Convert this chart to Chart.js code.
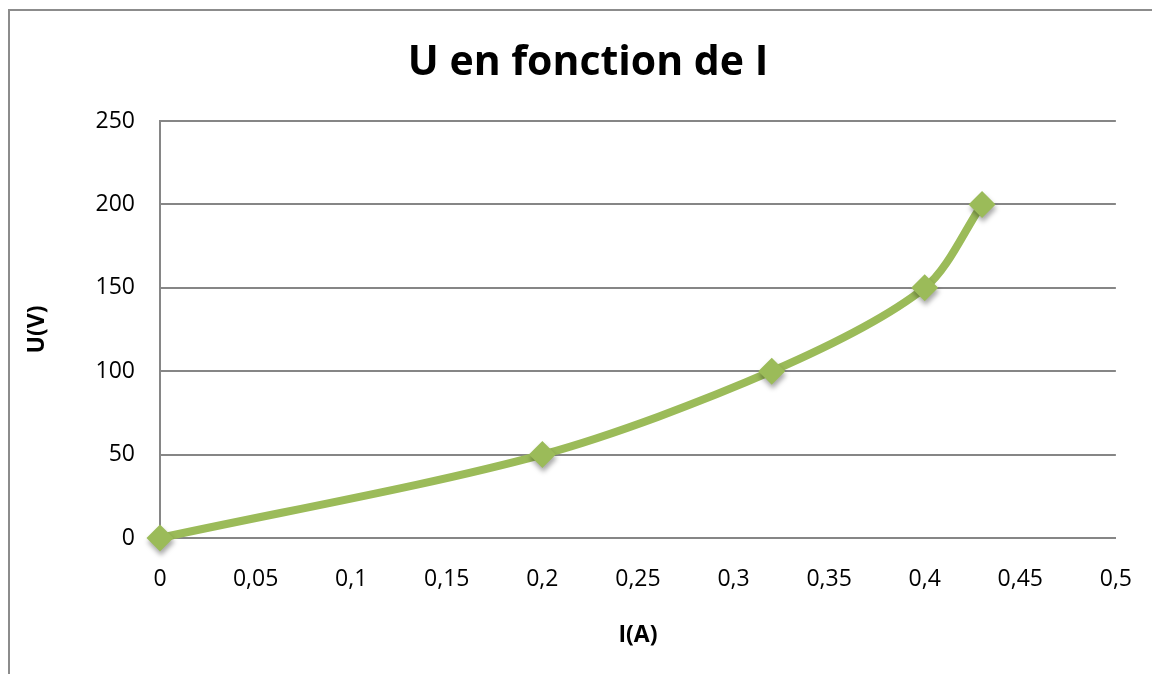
<!DOCTYPE html>
<html>
<head>
<meta charset="utf-8">
<script src="https://cdn.jsdelivr.net/npm/chart.js@4/dist/chart.umd.min.js"></script>
<style>
  html, body { margin: 0; padding: 0; background: #fff; overflow: hidden; }
  #frame {
    position: absolute; left: 8px; top: 9px; width: 1300px; height: 800px;
    border: 2px solid #8c8c8c; box-sizing: border-box;
  }
  #wrap { position: absolute; left: 0; top: 0; width: 1160px; height: 674px; }
</style>
</head>
<body>
<div id="frame"></div>
<div id="wrap"><canvas id="chart"></canvas></div>
<script>
// I (A) / U (V) measurements
const courant = [0, 0.2, 0.32, 0.4, 0.43];
const tension = [0, 50, 100, 150, 200];
const xTicks = [0, 0.05, 0.1, 0.15, 0.2, 0.25, 0.3, 0.35, 0.4, 0.45, 0.5];
const yTicks = [0, 50, 100, 150, 200, 250];
const titre = "U en fonction de I";

const points = courant.map((x, i) => ({ x: x, y: tension[i] }));
const vert = "#9bbb59";
const FONT = "'Open Sans', 'Liberation Sans', sans-serif";

// soft drop shadow under the markers only
const markerShadow = {
    id: "markerShadow",
    beforeDatasetDraw(chart, args) {
        if (args.index !== 1) return;
        const c = chart.ctx;
        c.save();
        c.shadowColor = "rgba(0,0,0,0.35)";
        c.shadowBlur = 5;
        c.shadowOffsetX = 1;
        c.shadowOffsetY = 4;
    },
    afterDatasetDraw(chart, args) {
        if (args.index !== 1) return;
        chart.ctx.restore();
    }
};

// chart title, centred over the whole frame rather than the plot
const frameTitle = {
    id: "frameTitle",
    afterDraw(chart) {
        const c = chart.ctx;
        c.save();
        c.font = "bold 41px " + FONT;
        c.fillStyle = "#000";
        c.textAlign = "center";
        c.textBaseline = "alphabetic";
        c.fillText(titre, 588, 75);
        c.restore();
    }
};

const fmt = v => String(v).replace(".", ",");

new Chart(document.getElementById("chart"), {
    type: "line",
    data: {
        datasets: [{
            data: points,
            borderColor: vert,
            borderWidth: 8,
            tension: 0.3,
            pointRadius: 0,
            clip: false,
            order: 2
        }, {
            data: points,
            showLine: false,
            pointStyle: "rectRot",
            pointRadius: 13.5,
            pointBackgroundColor: vert,
            pointBorderWidth: 0,
            clip: false,
            order: 1
        }]
    },
    options: {
        responsive: true,
        maintainAspectRatio: false,
        animation: false,
        layout: { padding: { top: 121, right: 0, bottom: 0, left: 0 } },
        plugins: {
            legend: { display: false },
            tooltip: { enabled: false },
            title: { display: false }
        },
        scales: {
            x: {
                type: "linear",
                min: 0, max: 0.5,
                afterBuildTicks: s => { s.ticks = xTicks.map(v => ({ value: v })); },
                afterFit: s => { s.height = 136; },
                grid: { display: false, drawTicks: false },
                border: { display: true, color: "#868686", width: 2 },
                ticks: {
                    color: "#000",
                    padding: 28,
                    font: { family: FONT, size: 23 },
                    callback: v => fmt(v)
                },
                title: {
                    display: true,
                    text: "I(A)",
                    color: "#000",
                    font: { family: FONT, size: 23, weight: "bold" },
                    padding: { top: 0, bottom: 25 }
                }
            },
            y: {
                min: 0, max: 250,
                afterBuildTicks: s => { s.ticks = yTicks.map(v => ({ value: v })); },
                afterFit: s => { s.width = 160; },
                grid: { color: "#868686", lineWidth: 2, drawTicks: false },
                border: { display: true, color: "#868686", width: 2 },
                ticks: {
                    color: "#000",
                    padding: 25,
                    font: { family: FONT, size: 23 }
                },
                title: {
                    display: true,
                    text: "U(V)",
                    color: "#000",
                    font: { family: FONT, size: 23, weight: "bold" },
                    padding: { top: 24, bottom: 0 }
                }
            }
        }
    },
    plugins: [markerShadow, frameTitle]
});
</script>
</body>
</html>
